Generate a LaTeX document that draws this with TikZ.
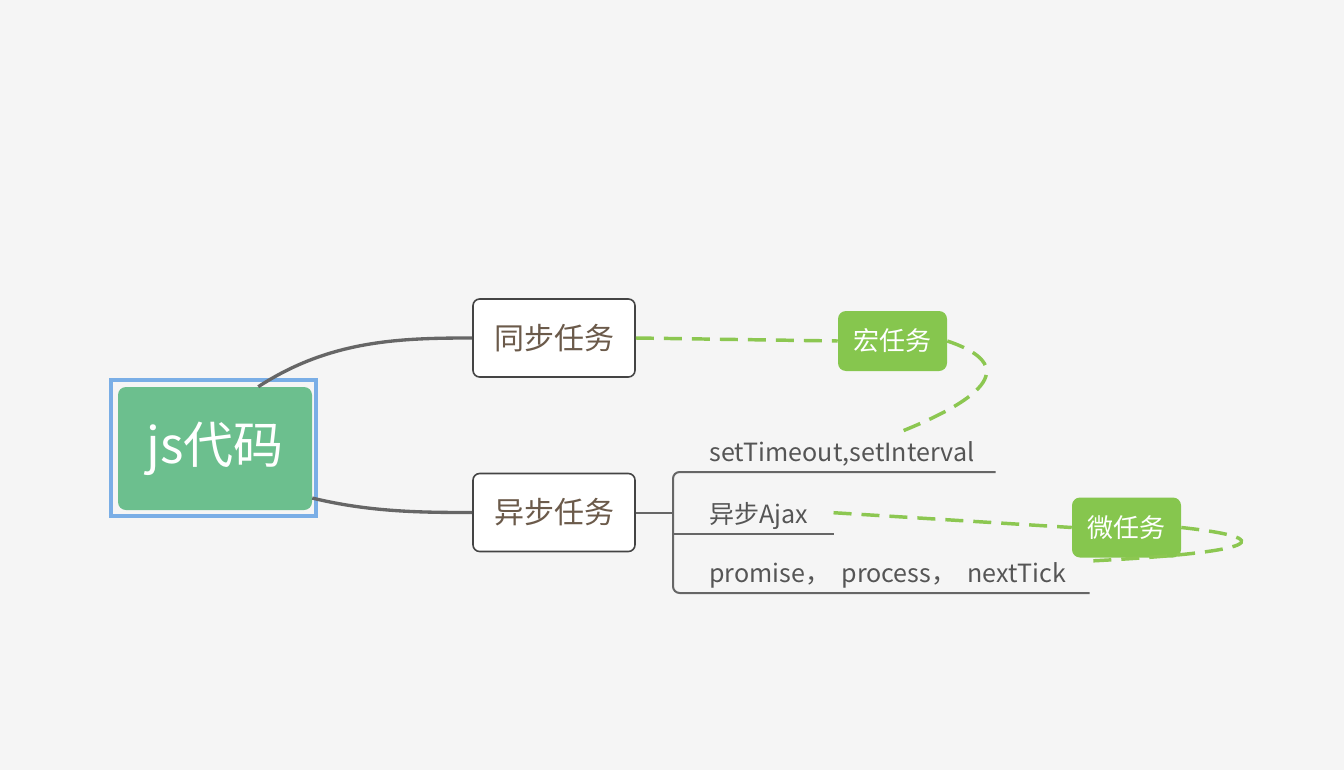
\documentclass[tikz,border=0pt]{standalone}
\usepackage{fontspec}
\newfontfamily\cjk{Noto Sans CJK SC}
\usetikzlibrary{positioning}
\definecolor{bgcol}{HTML}{F5F5F5}
\definecolor{rootgreen}{HTML}{6CBF8E}
\definecolor{selblue}{HTML}{7AAEE6}
\definecolor{linkgray}{HTML}{666666}
\definecolor{boxline}{HTML}{444444}
\definecolor{topictext}{HTML}{6B5A4A}
\definecolor{leaftext}{HTML}{555555}
\definecolor{taskgreen}{HTML}{86C64E}
\definecolor{dashgreen}{HTML}{8CC751}

\tikzset{
  rootbox/.style={fill=rootgreen, rounded corners=6pt, text=white, minimum width=145.5pt, minimum height=92.25pt, font=\cjk\fontsize{37.5}{42}\selectfont},
  rootsel/.style={draw=selblue, line width=2.6pt, minimum width=153.75pt, minimum height=102pt},
  topic/.style={draw=boxline, fill=white, line width=1.2pt, rounded corners=5pt, text=topictext, minimum width=121.5pt, minimum height=58.5pt, font=\cjk\fontsize{22.5}{26}\selectfont},
  leaf/.style={anchor=south west, inner xsep=0pt, inner ysep=7.5pt, text depth=0pt, text=leaftext, align=left, font=\cjk\fontsize{18.8}{22}\selectfont},
  tasktag/.style={fill=taskgreen, rounded corners=6pt, text=white, minimum width=81.75pt, minimum height=45pt, font=\cjk\fontsize{19.5}{23}\selectfont},
  link/.style={draw=linkgray, line width=2.5pt},
  branch/.style={draw=linkgray, line width=1.5pt},
  relation/.style={draw=dashgreen, line width=2.6pt, dash pattern=on 13.5pt off 7.5pt}
}

\begin{document}
\begin{tikzpicture}[x=0.75pt, y=-0.75pt]
  \fill[bgcol] (0,0) rectangle (1344,770); % page background
  \useasboundingbox (0,0) rectangle (1344,770);

  % central topic
  \node[rootsel] (sel) at (213.5,448) {};
  \node[rootbox] (root) at (215,448.5) {js代码};

  % main topics
  \node[topic] (sync) at (554,338) {同步任务};
  \node[topic] (async) at (554,512.5) {异步任务};

  \draw[link] (root.55) .. controls (330,340) and (400,338) .. (sync.west);
  \draw[link] (root.-27) .. controls (370,512) and (420,512.5) .. (async.west);

  % subtopics of async
  \node[leaf, text width=241.5pt] (timer) at (673,472) {\hspace*{27pt}setTimeout,setInterval};
  \node[leaf, text width=120pt] (ajax) at (673,533.5) {\hspace*{27pt}异步Ajax};
  \node[leaf, text width=312pt] (tick) at (673,593) {\hspace*{27pt}promise，\hspace{0.45em}process，\hspace{0.45em}nextTick};
  \coordinate (fork) at (673,512.5);

  \draw[branch] (async.east) -- (fork);
  \draw[branch, rounded corners=5pt] (timer.south east) -- (timer.south west) -- (tick.south west) -- (tick.south east);
  \draw[branch] (ajax.south west) -- (ajax.south east);

  % relationships
  \node[tasktag] (macro) at (892.5,341) {宏任务};
  \node[tasktag] (micro) at (1126.5,527.5) {微任务};
  \coordinate (macroend) at (900,432);
  \coordinate (microend) at (1090,561);

  \draw[relation] (sync.east) -- (macro.west);
  \draw[relation] (macro.east) .. controls (1010,362) and (1000,392) .. (macroend);
  \draw[relation] (ajax.east) -- (micro.west);
  \draw[relation] (micro.east) .. controls (1278,538) and (1266,552) .. (microend);
\end{tikzpicture}
\end{document}
